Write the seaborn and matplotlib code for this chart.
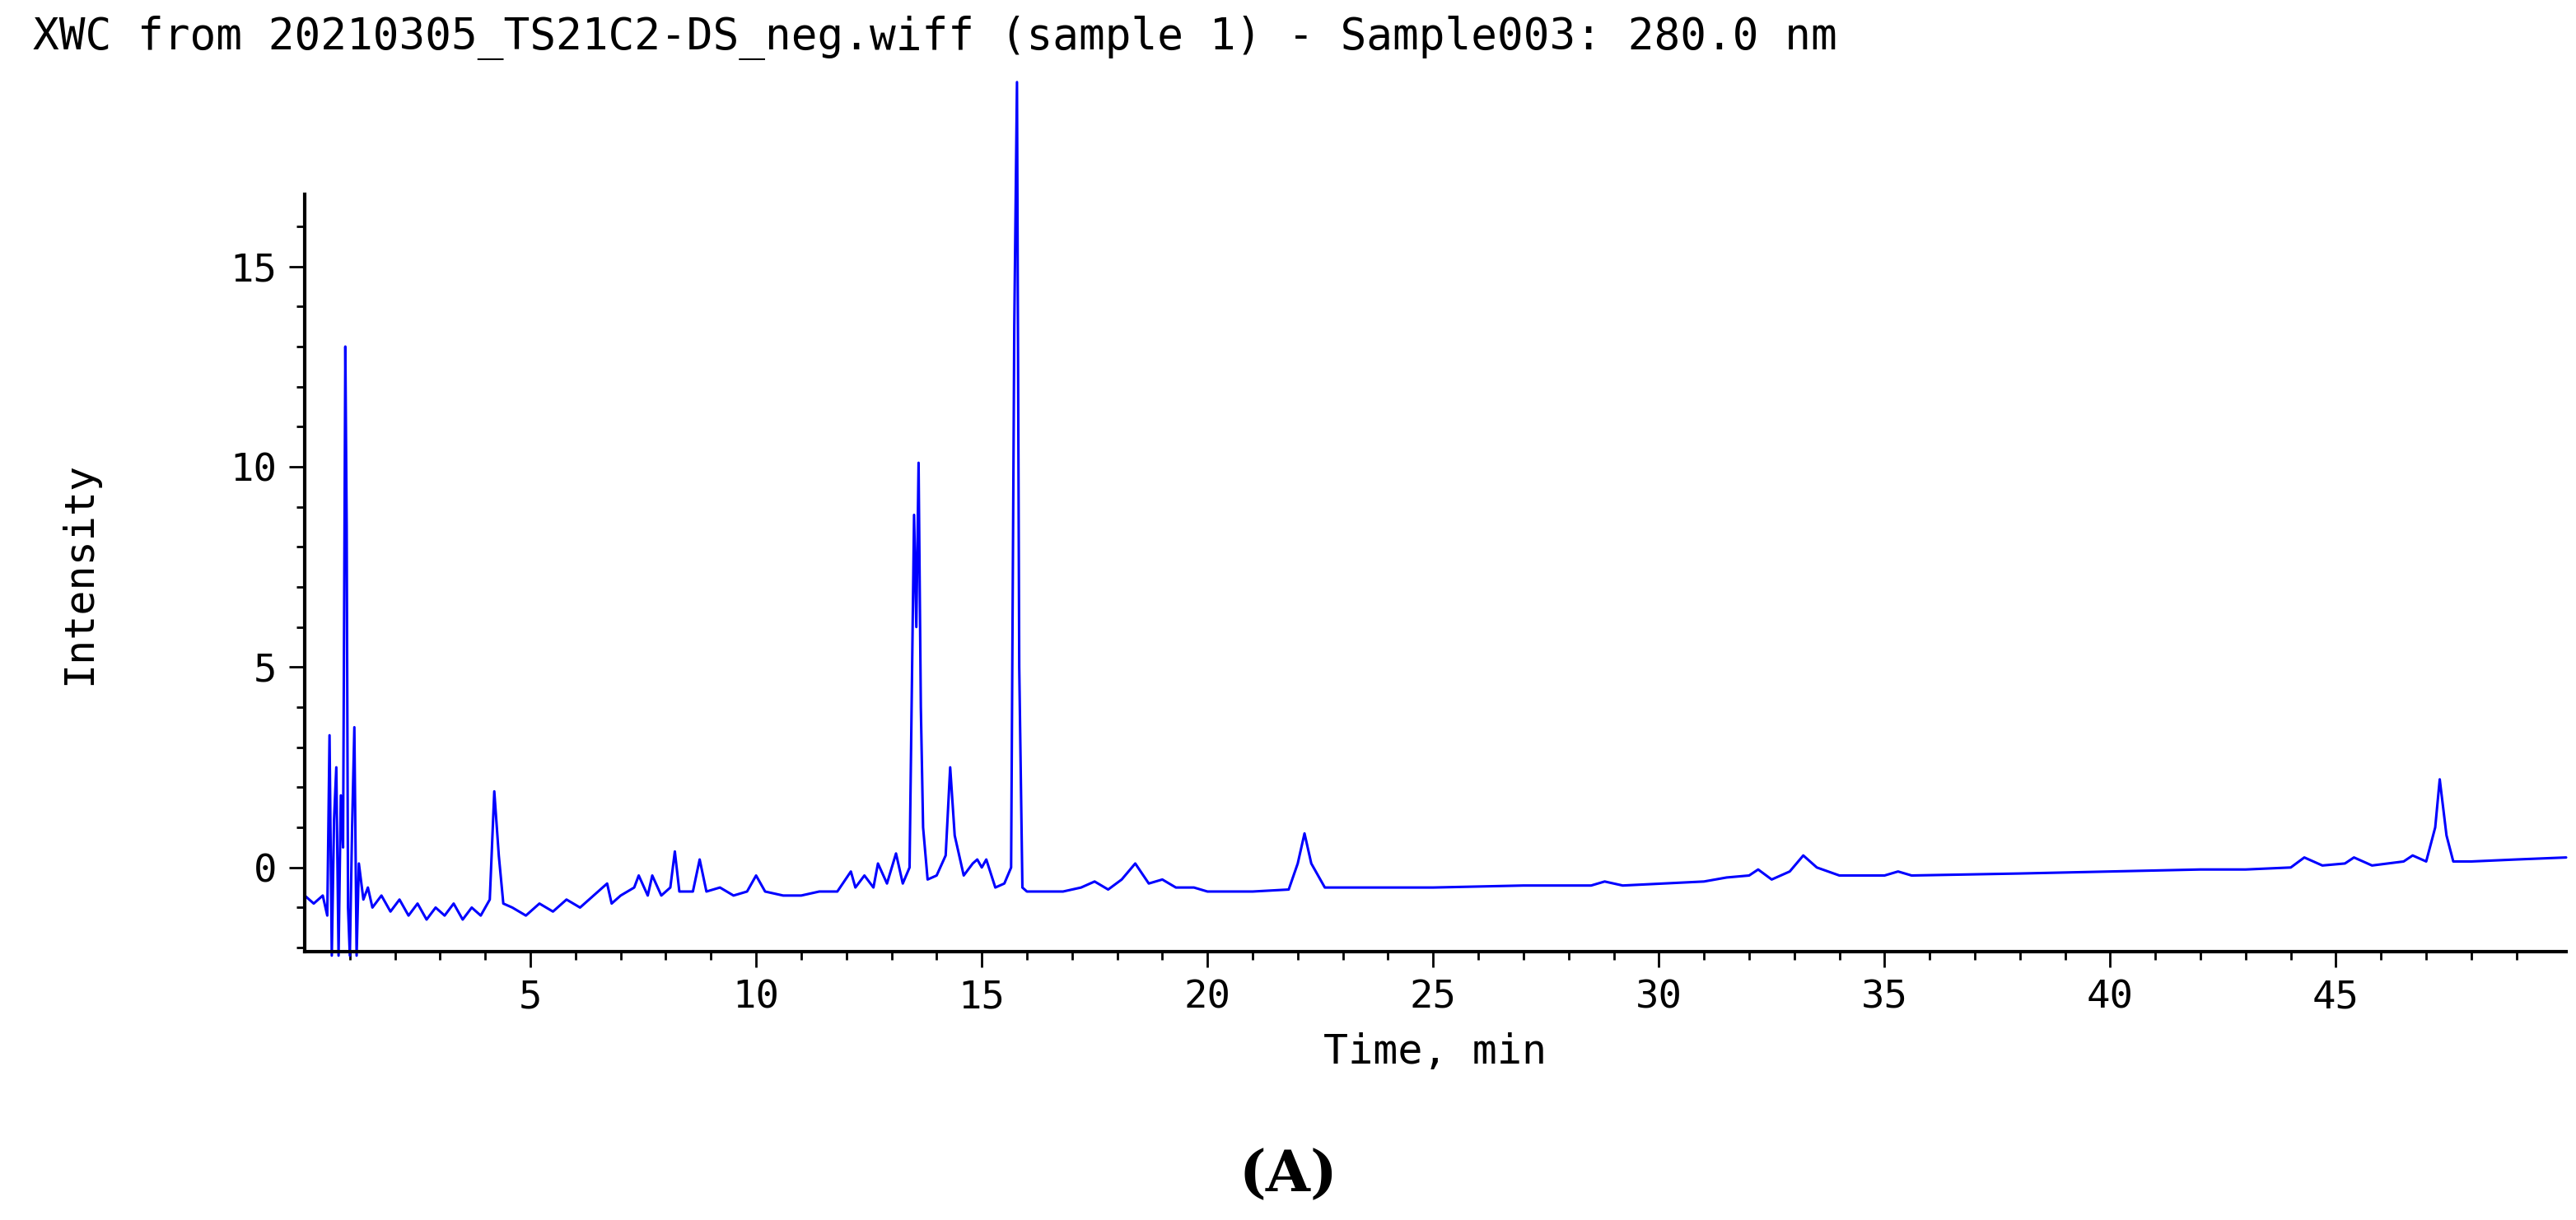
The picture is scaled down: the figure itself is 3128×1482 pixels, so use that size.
import matplotlib.pyplot as plt
import seaborn as sns
import pandas as pd

# chromatogram trace (time in min, intensity)
time = [0.0, 0.2, 0.4, 0.5, 0.55, 0.6, 0.65, 0.7, 0.75, 0.8, 0.85, 0.9, 0.93, 0.96, 1.0, 1.05,
        1.1, 1.15, 1.2, 1.3, 1.4, 1.5, 1.7, 1.9, 2.1, 2.3, 2.5, 2.7, 2.9, 3.1, 3.3, 3.5, 3.7,
        3.9, 4.1, 4.2, 4.3, 4.4, 4.6, 4.9, 5.2, 5.5, 5.8, 6.1, 6.4, 6.7, 6.8, 7.0, 7.3, 7.4,
        7.6, 7.7, 7.9, 8.1, 8.2, 8.3, 8.6, 8.75, 8.9, 9.2, 9.5, 9.8, 10.0, 10.2, 10.6, 11.0,
        11.4, 11.8, 12.1, 12.2, 12.4, 12.6, 12.7, 12.9, 13.1, 13.25, 13.4, 13.5, 13.55,
        13.6, 13.65, 13.7, 13.8, 14.0, 14.2, 14.3, 14.4, 14.6, 14.8, 14.9, 15.0, 15.1,
        15.3, 15.5, 15.65, 15.72, 15.78, 15.83, 15.9, 16.0, 16.3, 16.8, 17.2, 17.5, 17.8,
        18.1, 18.4, 18.7, 19.0, 19.3, 19.7, 20.0, 21.0, 21.8, 22.0, 22.15, 22.3, 22.6,
        23.0, 25.0, 27.0, 28.5, 28.8, 29.2, 31.0, 31.5, 32.0, 32.2, 32.5, 32.9, 33.2,
        33.5, 34.0, 35.0, 35.3, 35.6, 38.0, 40.0, 42.0, 43.0, 44.0, 44.3, 44.7, 45.2,
        45.4, 45.8, 46.5, 46.7, 47.0, 47.2, 47.3, 47.45, 47.6, 48.0, 49.0, 50.1]
intensity = [-0.7, -0.9, -0.7, -1.2, 3.3, -2.2, 1.2, 2.5, -2.2, 1.8, 0.5, 13.0, 8.5, -1.0, -2.2, 1.0,
             3.5, -2.2, 0.1, -0.8, -0.5, -1.0, -0.7, -1.1, -0.8, -1.2, -0.9, -1.3, -1.0, -1.2, -0.9, -1.3, -1.0,
             -1.2, -0.8, 1.9, 0.3, -0.9, -1.0, -1.2, -0.9, -1.1, -0.8, -1.0, -0.7, -0.4, -0.9, -0.7, -0.5, -0.2,
             -0.7, -0.2, -0.7, -0.5, 0.4, -0.6, -0.6, 0.2, -0.6, -0.5, -0.7, -0.6, -0.2, -0.6, -0.7, -0.7,
             -0.6, -0.6, -0.1, -0.5, -0.2, -0.5, 0.1, -0.4, 0.35, -0.4, 0.0, 8.8, 6.0,
             10.1, 4.0, 1.0, -0.3, -0.2, 0.3, 2.5, 0.8, -0.2, 0.1, 0.2, 0.0, 0.2,
             -0.5, -0.4, 0.0, 13.5, 19.6, 5.0, -0.5, -0.6, -0.6, -0.6, -0.5, -0.35, -0.55,
             -0.3, 0.1, -0.4, -0.3, -0.5, -0.5, -0.6, -0.6, -0.55, 0.1, 0.85, 0.1, -0.5,
             -0.5, -0.5, -0.45, -0.45, -0.35, -0.45, -0.35, -0.25, -0.2, -0.05, -0.3, -0.1, 0.3,
             0.0, -0.2, -0.2, -0.1, -0.2, -0.15, -0.1, -0.05, -0.05, 0.0, 0.25, 0.05, 0.1,
             0.25, 0.05, 0.15, 0.3, 0.15, 1.0, 2.2, 0.8, 0.15, 0.15, 0.2, 0.25]

x_ticks = [5, 10, 15, 20, 25, 30, 35, 40, 45]
y_ticks = [0, 5, 10, 15]
title = "XWC from 20210305_TS21C2-DS_neg.wiff (sample 1) - Sample003: 280.0 nm"

df = pd.DataFrame({"time": time, "intensity": intensity})

sns.set_style("white")
plt.rcParams['font.family'] = ['DejaVu Sans Mono', 'DejaVu Sans']
plt.rcParams['text.color'] = 'black'
plt.rcParams['axes.labelcolor'] = 'black'
plt.rcParams['xtick.color'] = 'black'
plt.rcParams['ytick.color'] = 'black'

fig = plt.figure(figsize=(31.28, 14.82), dpi=100)
ax = fig.add_axes([370 / 3128, 1 - 1156 / 1482, (3116 - 370) / 3128, (1156 - 236) / 1482])
sns.lineplot(data=df, x="time", y="intensity", ax=ax, color="#0000ff", linewidth=2.2,
             estimator=None, sort=False)
ax.set_xlim(0, 50.1)
ax.set_ylim(-2.1, 16.8)
ax.set_xticks(x_ticks)
ax.set_yticks(y_ticks)
ax.set_xticks([i for i in range(1, 50)], minor=True)
ax.set_yticks([i for i in range(-2, 17)], minor=True)
ax.tick_params(which="major", direction="out", length=14, width=2, labelsize=34, pad=10)
ax.tick_params(which="minor", direction="out", length=7, width=2)
ax.tick_params(bottom=True, left=True, which="both")
for s in ["top", "right"]:
    ax.spines[s].set_visible(False)
for s in ["left", "bottom"]:
    ax.spines[s].set_linewidth(3)
    ax.spines[s].set_color("black")
ax.set_xlabel("Time, min", fontsize=36, labelpad=14)
ax.set_ylabel("Intensity", fontsize=36)
ax.yaxis.set_label_coords(-250 / 2746, 0.5)
# keep the big peak from being cut at the axis top, like the original
ax.lines[0].set_clip_on(False)

fig.text(40 / 3128, 1 - 46 / 1482, title, fontsize=38, va="center", ha="left")
fig.text(0.5, 1 - 1428 / 1482, "(A)", fontsize=50, fontweight="bold", family="DejaVu Serif",
         ha="center", va="center", color="black")
fig.savefig("out.png", dpi=100, facecolor="white")
